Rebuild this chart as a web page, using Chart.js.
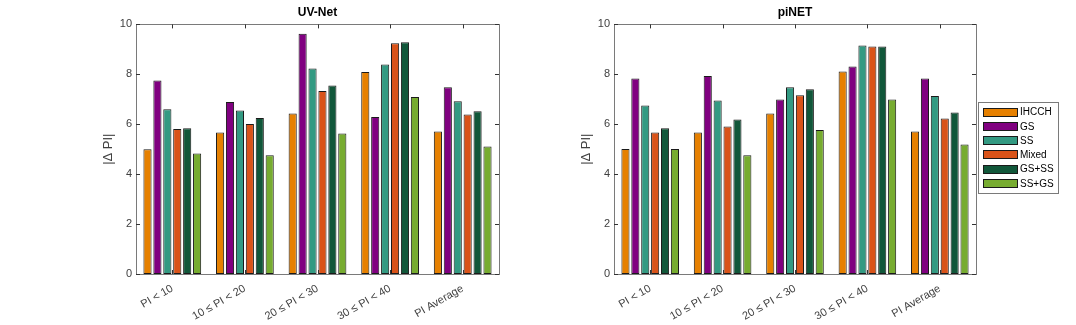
<!DOCTYPE html>
<html>
<head>
<meta charset="utf-8">
<script src="https://cdn.jsdelivr.net/npm/chart.js@4/dist/chart.umd.min.js"></script>
<style>
  body { margin: 0; background: #fff; }
  #wrap { position: relative; width: 1076px; height: 325px; }
  #wrap div { position: absolute; top: 0; height: 325px; }
</style>
</head>
<body>
<div id="wrap">
  <div style="left:0;width:560px"><canvas id="uv"></canvas></div>
  <div style="left:540px;width:536px"><canvas id="pi"></canvas></div>
</div>
<script>
// categories and series
var categories = ['PI < 10', '10 \u2264 PI < 20', '20 \u2264 PI < 30', '30 \u2264 PI < 40', 'PI Average'];
var methods = ['IHCCH', 'GS', 'SS', 'Mixed', 'GS+SS', 'SS+GS'];
var colors = ['#E68000', '#800080', '#339A82', '#D95319', '#11573A', '#77AC30'];
var yTicks = [0, 2, 4, 6, 8, 10];

// UV-Net, one array per method
var uvIHCCH = [5.0, 5.67, 6.43, 8.09, 5.71];
var uvGS    = [7.75, 6.89, 9.63, 6.29, 7.48];
var uvSS    = [6.6, 6.55, 8.23, 8.39, 6.92];
var uvMixed = [5.81, 6.01, 7.33, 9.24, 6.39];
var uvGSSS  = [5.84, 6.25, 7.55, 9.28, 6.52];
var uvSSGS  = [4.83, 4.76, 5.63, 7.09, 5.11];

// piNET
var piIHCCH = [5.01, 5.67, 6.43, 8.11, 5.71];
var piGS    = [7.83, 7.93, 6.99, 8.31, 7.83];
var piSS    = [6.75, 6.95, 7.48, 9.15, 7.13];
var piMixed = [5.67, 5.91, 7.16, 9.11, 6.23];
var piGSSS  = [5.84, 6.19, 7.40, 9.11, 6.47];
var piSSGS  = [5.01, 4.76, 5.77, 6.99, 5.19];

function makeSets(series) {
  return series.map(function(vals, i) {
    return {
      label: methods[i],
      data: vals,
      backgroundColor: colors[i],
      borderColor: '#1a1a1a',
      borderWidth: 1,
      borderSkipped: false,
      categoryPercentage: 0.82,
      barPercentage: 0.82
    };
  });
}

// matlab style box with inward ticks
var boxPlugin = {
  id: 'box',
  afterDraw: function(chart) {
    var ctx = chart.ctx, ca = chart.chartArea;
    var ys = chart.scales.y, xs = chart.scales.x;
    ctx.save();
    ctx.strokeStyle = '#7a7a7a';
    ctx.lineWidth = 1;
    ctx.strokeRect(Math.round(ca.left) + 0.5, Math.round(ca.top) + 0.5,
                   Math.round(ca.right - ca.left), Math.round(ca.bottom - ca.top));
    ctx.strokeStyle = '#333';
    ctx.beginPath();
    yTicks.forEach(function(v) {
      var y = Math.round(ys.getPixelForValue(v)) + 0.5;
      ctx.moveTo(ca.left, y); ctx.lineTo(ca.left + 4, y);
      ctx.moveTo(ca.right, y); ctx.lineTo(ca.right - 4, y);
    });
    categories.forEach(function(c, i) {
      var x = Math.round(xs.getPixelForValue(i)) + 0.5;
      ctx.moveTo(x, ca.top); ctx.lineTo(x, ca.top + 4);
      ctx.moveTo(x, ca.bottom); ctx.lineTo(x, ca.bottom - 4);
    });
    ctx.stroke();
    ctx.restore();
  }
};

// boxed legend at the right of the piNET axes
var legendPlugin = {
  id: 'boxLegend',
  afterDraw: function(chart, args, opts) {
    if (!opts.show) return;
    var ctx = chart.ctx;
    var x0 = opts.x, y0 = opts.y;
    ctx.save();
    ctx.fillStyle = '#fff';
    ctx.fillRect(x0, y0, opts.w, opts.h);
    ctx.strokeStyle = '#7a7a7a';
    ctx.strokeRect(x0 + 0.5, y0 + 0.5, opts.w, opts.h);
    ctx.font = '10px "Liberation Sans", Arial, sans-serif';
    ctx.textBaseline = 'middle';
    chart.data.datasets.forEach(function(ds, i) {
      var cy = y0 + 10 + i * 14.3;
      ctx.fillStyle = ds.backgroundColor;
      ctx.fillRect(x0 + 5, Math.round(cy - 4.5), 35, 9);
      ctx.strokeStyle = '#1a1a1a';
      ctx.strokeRect(x0 + 5.5, Math.round(cy - 4.5) + 0.5, 34, 8);
      ctx.fillStyle = '#000';
      ctx.fillText(ds.label, x0 + 42, cy + 0.5);
    });
    ctx.restore();
  }
};

function makeChart(id, title, series, padLeft, padRight, showLegend) {
  return new Chart(document.getElementById(id), {
    type: 'bar',
    data: { labels: categories, datasets: makeSets(series) },
    plugins: [boxPlugin, legendPlugin],
    options: {
      responsive: true,
      maintainAspectRatio: false,
      animation: false,
      layout: { padding: { left: padLeft, right: padRight, top: 0, bottom: 0 } },
      plugins: {
        legend: { display: false },
        tooltip: { enabled: false },
        title: {
          display: true,
          text: title,
          fullSize: false,
          color: '#000',
          font: { family: '"Liberation Sans", Arial, sans-serif', size: 12, weight: 'bold' },
          padding: { top: 5, bottom: 5 }
        },
        boxLegend: { show: showLegend, x: 438, y: 102, w: 80, h: 91 }
      },
      scales: {
        x: {
          grid: { display: false, drawTicks: false, tickLength: 0 },
          border: { display: false },
          ticks: {
            color: '#404040',
            minRotation: 30,
            maxRotation: 30,
            padding: 8,
            font: { family: '"Liberation Sans", Arial, sans-serif', size: 11 }
          },
          afterFit: function(s) { s.height = 51; }
        },
        y: {
          min: 0,
          max: 10,
          grid: { display: false, drawTicks: false, tickLength: 0 },
          border: { display: false },
          ticks: {
            stepSize: 2,
            color: '#404040',
            padding: 4,
            font: { family: '"Liberation Sans", Arial, sans-serif', size: 11 }
          },
          title: {
            display: true,
            text: '|\u0394 PI|',
            color: '#404040',
            padding: { top: 5, bottom: 0 },
            font: { family: '"Liberation Sans", Arial, sans-serif', size: 13 }
          },
          afterFit: function(s) { s.width = 40; }
        }
      }
    }
  });
}

makeChart('uv', 'UV-Net', [uvIHCCH, uvGS, uvSS, uvMixed, uvGSSS, uvSSGS], 96, 61, false);
makeChart('pi', 'piNET', [piIHCCH, piGS, piSS, piMixed, piGSSS, piSSGS], 34, 100, true);
</script>
</body>
</html>
